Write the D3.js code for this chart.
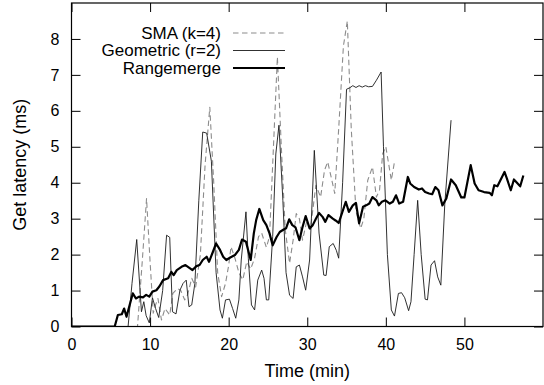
<!DOCTYPE html>
<html>
<head>
<meta charset="utf-8">
<script src="https://cdn.jsdelivr.net/npm/d3@7"></script>
<style>
  html, body { margin: 0; padding: 0; background: #fff; }
  svg { display: block; }
  text { font-family: "Liberation Sans", Arial, Helvetica, sans-serif; fill: #000; }
</style>
</head>
<body>
<svg id="chart" width="544" height="385"></svg>
<script>
// Get latency over time for three range-merging policies.
const seriesNames = ["SMA (k=4)", "Geometric (r=2)", "Rangemerge"];

const smaTime = [0, 8.4, 9.0, 9.55, 10.0, 10.4, 10.7, 11.0, 11.45, 11.9, 12.5, 12.9, 13.5, 13.9, 14.4, 14.8, 15.3, 15.8, 16.4, 17.0, 17.6, 18.1, 18.6, 19.1, 19.6, 20.0, 20.3, 20.8, 21.3, 21.8, 22.3, 22.8, 23.3, 23.8, 24.2, 24.8, 25.2, 25.7, 26.2, 26.7, 27.2, 27.75, 28.2, 28.6, 29.0, 29.4, 29.9, 30.4, 31.1, 31.7, 32.2, 32.6, 33.0, 33.5, 34.0, 34.6, 35.1, 35.6, 36.2, 36.8, 37.2, 37.7, 38.3, 38.8, 39.2, 39.6, 40.0, 40.7, 41.1];
const smaLatency = [0, 0, 1.8, 3.56, 1.8, 0.37, 0.6, 0.78, 0.18, 0.5, 0.32, 0.92, 1.06, 1.0, 0.74, 0.9, 1.34, 1.1, 2.0, 4.5, 6.1, 4.0, 1.5, 0.83, 1.2, 1.7, 2.22, 1.9, 1.5, 1.3, 1.8, 1.6, 1.9, 2.5, 2.6, 2.2, 2.5, 5.0, 7.5, 5.0, 2.7, 1.76, 2.4, 3.14, 3.0, 2.4, 2.9, 2.7, 3.93, 3.6, 4.35, 4.58, 4.2, 3.7, 5.5, 7.8, 8.5, 5.5, 3.2, 2.73, 3.0, 4.07, 4.44, 3.6, 3.8, 4.81, 5.0, 4.07, 4.58];

const geoTime = [0, 7.2, 7.7, 8.3, 8.9, 9.2, 9.5, 9.9, 10.3, 10.7, 11.1, 11.6, 12.1, 12.5, 12.85, 13.3, 13.8, 14.2, 14.6, 14.95, 15.3, 15.7, 16.2, 16.7, 17.2, 17.8, 18.4, 18.9, 19.2, 19.6, 20.1, 20.5, 20.9, 21.3, 21.6, 22.2, 22.5, 22.9, 23.3, 23.7, 24.2, 24.5, 24.8, 25.1, 25.6, 26.0, 26.4, 26.9, 27.3, 27.75, 28.2, 28.6, 29.0, 29.4, 29.8, 30.3, 30.9, 31.5, 32.1, 32.4, 32.8, 33.3, 33.7, 34.0, 34.5, 35.0, 35.4, 35.8, 36.2, 36.6, 37.0, 37.4, 37.8, 38.3, 38.8, 39.4, 39.7, 40.2, 40.7, 41.1, 41.6, 42.0, 42.4, 42.9, 43.2, 43.6, 44.05, 44.5, 45.0, 45.3, 45.75, 46.2, 46.6, 47.0, 47.5, 48.3];
const geoLatency = [0, 0, 1.2, 2.42, 0.41, 0.69, 0.3, 0.1, 0.8, 0.5, 0.25, 1.0, 2.54, 2.48, 0.41, 0.35, 1.01, 1.2, 1.29, 0.55, 0.6, 1.2, 3.5, 5.41, 5.38, 4.6, 1.5, 0.46, 0.23, 0.74, 0.76, 0.5, 0.23, 0.74, 1.85, 3.19, 1.9, 0.6, 0.46, 1.29, 1.57, 1.34, 0.74, 0.74, 2.5, 4.8, 5.6, 3.5, 1.5, 0.87, 0.78, 1.66, 1.71, 1.38, 1.01, 1.85, 4.9, 2.6, 1.43, 1.42, 2.22, 2.31, 2.12, 1.9, 4.0, 6.6, 6.64, 6.7, 6.65, 6.7, 6.66, 6.7, 6.67, 6.68, 6.85, 7.08, 5.0, 2.0, 0.46, 0.29, 0.92, 0.94, 0.8, 0.44, 0.69, 2.0, 3.51, 2.0, 0.76, 0.74, 1.71, 1.83, 1.38, 1.15, 3.4, 5.74];

const rmTime = [0, 5.5, 5.9, 6.4, 6.7, 7.0, 7.4, 7.8, 8.2, 8.6, 9.1, 9.5, 9.9, 10.3, 10.8, 11.2, 11.65, 12.3, 12.7, 13.0, 13.4, 14.0, 14.5, 14.95, 15.4, 15.9, 16.3, 16.7, 17.2, 17.5, 18.0, 18.4, 18.9, 19.3, 19.7, 20.2, 20.8, 21.3, 21.7, 22.2, 22.8, 23.2, 23.5, 23.9, 24.4, 24.8, 25.2, 25.6, 26.1, 26.5, 27.0, 27.3, 27.7, 28.1, 28.5, 29.0, 29.4, 29.8, 30.3, 30.7, 31.1, 31.5, 31.95, 32.3, 32.7, 33.25, 33.6, 34.0, 34.4, 34.9, 35.3, 35.8, 36.2, 36.6, 37.1, 37.5, 37.9, 38.3, 38.8, 39.1, 39.5, 39.95, 40.5, 40.9, 41.3, 41.7, 42.2, 42.8, 43.1, 43.6, 44.2, 44.6, 45.0, 45.5, 45.9, 46.3, 46.7, 47.2, 47.7, 48.3, 48.9, 49.6, 50.0, 50.8, 51.3, 51.8, 52.5, 53.2, 53.5, 53.8, 54.2, 55.1, 55.4, 55.9, 56.3, 57.1, 57.5];
const rmLatency = [0, 0, 0.32, 0.34, 0.5, 0.27, 0.6, 0.92, 0.78, 0.83, 0.81, 0.88, 0.83, 0.97, 1.01, 1.12, 1.29, 1.34, 1.52, 1.43, 1.57, 1.66, 1.71, 1.64, 1.57, 1.68, 1.71, 1.85, 1.94, 1.8, 2.08, 2.31, 2.13, 1.94, 1.85, 1.92, 1.99, 2.13, 2.42, 2.36, 1.85, 2.59, 2.96, 3.27, 2.96, 2.82, 2.59, 2.26, 2.49, 2.63, 2.7, 2.73, 2.98, 2.82, 2.76, 2.4, 2.77, 3.07, 2.73, 2.82, 3.0, 3.16, 3.05, 2.91, 3.1, 3.0, 2.95, 2.88, 3.14, 3.47, 3.19, 3.37, 3.44, 2.87, 3.33, 3.37, 3.42, 3.6, 3.51, 3.37, 3.47, 3.51, 3.42, 3.47, 3.65, 3.42, 3.47, 4.16, 3.98, 3.88, 3.81, 3.84, 3.74, 3.7, 3.68, 3.88, 3.79, 3.37, 3.56, 4.09, 3.93, 3.59, 3.59, 4.49, 3.98, 3.79, 3.74, 3.72, 3.65, 3.93, 3.9, 4.3, 4.12, 3.79, 4.09, 3.9, 4.2];

const xTicks = [0, 10, 20, 30, 40, 50];
const yTicks = [0, 1, 2, 3, 4, 5, 6, 7, 8];

const svg = d3.select("#chart");
const plot = { left: 71.5, right: 543, top: 3, bottom: 326.5 };

const x = d3.scaleLinear().domain([0, 60]).range([plot.left, plot.right]);
const y = d3.scaleLinear().domain([0, 9]).range([plot.bottom, plot.top]);

svg.append("defs").append("clipPath").attr("id", "plotClip")
  .append("rect")
  .attr("x", plot.left).attr("y", plot.top)
  .attr("width", plot.right - plot.left).attr("height", plot.bottom - plot.top);

// Axes: inward ticks on all four sides, labels on bottom and left only
const tickLen = 9;
const gx = svg.append("g").attr("transform", `translate(0,${plot.bottom})`)
  .call(d3.axisBottom(x).tickValues(xTicks).tickSize(-tickLen).tickPadding(12.5));
const gxTop = svg.append("g").attr("transform", `translate(0,${plot.top})`)
  .call(d3.axisTop(x).tickValues(xTicks).tickSize(-tickLen).tickFormat(""));
const gy = svg.append("g").attr("transform", `translate(${plot.left},0)`)
  .call(d3.axisLeft(y).tickValues(yTicks).tickSize(-tickLen).tickPadding(12));
const gyRight = svg.append("g").attr("transform", `translate(${plot.right},0)`)
  .call(d3.axisRight(y).tickValues(yTicks).tickSize(-tickLen).tickFormat(""));

[gx, gxTop, gy, gyRight].forEach(g => {
  g.select(".domain").remove();
  g.selectAll(".tick line").attr("stroke", "#000").attr("stroke-width", 1);
  g.selectAll(".tick text")
    .style("font-family", "'Liberation Sans', Arial, sans-serif")
    .style("font-size", "16px").attr("fill", "#000");
});
gx.selectAll(".tick text").attr("dy", "0.71em");

// Series lines
const line = d3.line().x(d => x(d[0])).y(d => y(d[1]));
const zip = (ts, vs) => ts.map((t, i) => [t, vs[i]]);

const series = [
  { name: seriesNames[0], data: zip(smaTime, smaLatency), stroke: "#8c8c8c", width: 1.1, dash: "5.5,3.5" },
  { name: seriesNames[1], data: zip(geoTime, geoLatency), stroke: "#1a1a1a", width: 0.9, dash: null },
  { name: seriesNames[2], data: zip(rmTime, rmLatency), stroke: "#000", width: 2.2, dash: null }
];

const gLines = svg.append("g").attr("clip-path", "url(#plotClip)");
series.forEach(s => {
  gLines.append("path")
    .datum(s.data)
    .attr("d", line)
    .attr("fill", "none")
    .attr("stroke", s.stroke)
    .attr("stroke-width", s.width)
    .attr("stroke-linejoin", "round")
    .attr("stroke-dasharray", s.dash);
});

// Plot frame
svg.append("rect")
  .attr("x", plot.left).attr("y", plot.top)
  .attr("width", plot.right - plot.left).attr("height", plot.bottom - plot.top)
  .attr("fill", "none").attr("stroke", "#000").attr("stroke-width", 1.2);

// Legend (top left, text right-aligned before its line sample)
const legendRows = [33, 50.5, 68];
const legend = svg.append("g");
series.forEach((s, i) => {
  legend.append("text")
    .attr("x", 221).attr("y", legendRows[i])
    .attr("dy", "0.35em")
    .attr("text-anchor", "end")
    .style("font-size", "17px")
    .text(s.name);
  legend.append("line")
    .attr("x1", 233).attr("x2", 285)
    .attr("y1", legendRows[i]).attr("y2", legendRows[i])
    .attr("stroke", s.stroke)
    .attr("stroke-width", s.width)
    .attr("stroke-dasharray", s.dash);
});

// Axis titles
svg.append("text")
  .attr("x", (plot.left + plot.right) / 2).attr("y", 377)
  .attr("text-anchor", "middle")
  .style("font-size", "18px")
  .text("Time (min)");

svg.append("text")
  .attr("transform", `translate(26,${(plot.top + plot.bottom) / 2}) rotate(-90)`)
  .attr("text-anchor", "middle")
  .style("font-size", "18px")
  .text("Get latency (ms)");
</script>
</body>
</html>
